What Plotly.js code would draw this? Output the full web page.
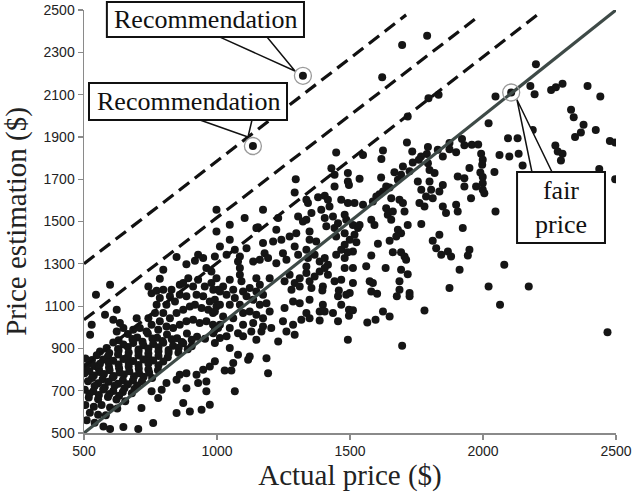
<!DOCTYPE html>
<html>
<head>
<meta charset="utf-8">
<script src="https://cdn.plot.ly/plotly-3.0.1.min.js"></script>
<style>html,body{margin:0;padding:0;background:#fff;}#chart{width:633px;height:501px;}</style>
</head>
<body>
<div id="chart"></div>
<script>
// ---- Scatter data: actual price ($) vs price estimation ($), grouped by area ----
const denseX = [665,700,740,775,812,850,887,925,955, 630,682,720,757,795,830,868,905,
  610,648,685,723,760,798,835,873,905, 585,628,665,705,742,780,818,856,890,
  560,595,630,668,705,742,780,818,855, 548,590,628,665,705,742,780,815,
  505,530,572,610,648,685,723,760,798, 520,560,592,630,668,705,742,780,
  505,540,556,594,632,668,706,742,778, 520,558,596,634,670,707,745,
  502,537,575,612,650,688,724,756, 530,570,608,646,684,718,
  515,553,592,628,665,700, 540,578,615,652,690,
  503,535,572,610,646,680, 520,556,595,632,
  518,553,590,622,655, 505,537,566,598,625, 522,553,582, 510,540];
const denseY = [968,952,970,950,966,948,971,955,946, 938,944,932,947,935,943,930,941,
  928,918,925,915,921,927,912,924,910, 902,897,907,895,899,905,893,903,896,
  885,878,889,881,884,876,887,879,880, 868,862,871,860,866,858,864,858,
  852,845,848,842,850,840,847,843,838, 830,827,834,824,831,822,829,820,
  812,817,803,811,806,814,804,800,797, 793,788,797,786,792,783,785,
  782,772,779,770,777,768,766,760, 760,754,762,750,748,744,
  745,735,742,733,730,724, 722,716,723,712,708,
  705,697,706,698,694,688, 686,680,684,676,
  668,660,670,658,650, 632,624,632,620,616, 596,586,584, 560,548];

const lowX = [754,779,792,810,848,860,885,923,948,973, 992,929,960,960,885,873,898,848,942,973, 760,704,648,598,573,716];
const lowY = [697,665,705,736,752,776,783,776,799,815, 839,736,744,697,712,642,602,594,610,634, 547,519,528,519,531,618];

const midLowX = [986,1011,1036,1079,1098,1129,1167,1148,1230,1261, 1292,992,1048,1079,1123,1117,1061,1029,1054,1186, 1192,1067,1492];
const midLowY = [972,949,957,972,957,980,980,941,933,980, 965,925,902,870,862,846,831,796,796,854, 783,697,941];

const bandX = [742,754,798,829,823,860,873,892,910,929, 954,979,998,1004,785,773,810,842,860,885,
  923,948,973,992,798,767,742,754,785,823, 848,873,898,917,942,967,985,998,710,735,
  779,810,835,860,885,910,935,960,985,1004, 685,610,635,523,623,648,
  598,545,623,848,798,785,885,917,929,948, 960,979,698,579,529,773,1011,1036,1111,1173, 1223,1336];
const bandY = [1193,1161,1177,1177,1146,1201,1209,1232,1193,1225, 1193,1209,1232,1177,1138,1106,1106,1122,1154,1146,
  1154,1146,1122,1130,1067,1067,1043,1012,1028,1043, 1067,1083,1098,1106,1091,1083,1067,1098,996,980,
  988,1004,996,1012,1028,1036,1020,1028,1012,996, 988,1036,1020,964,980,996,
  1201,1154,1083,1332,1272,1229,1298,1314,1343,1327, 1280,1264,1043,1059,1012,1172,1382,1343,1374,1398, 1303,1287];

const centerX = [1048,1148,1223,1211,1242,1273,1298,1348,1348,1373,1442,1448,1480,
  992,1067,1086,1079,1136,1161,1179,1192,1248,1261,1292,1305,1336,1342,1367,1386,1405,1417,1448,1467,1480,
  1086,1086,1092,1048,1023,1148,1161,1198,1254,1273,1292,1311,1336,1348,1367,1386,1405,1417,1442,1280,1311,1355,1398,1467,1480,
  1455,1486,1467,1398,1405,1348,1311,1286,1254,1396,1458,
  986,1011,1036,1061,1067,1098,1123,1148,1173,1186, 1198,1161,1136,1111,1086,1048,1011,992,1023,1061,
  1098,1123,1148,1173,1011,1048,1098,1136,1173,1204, 992,
  1248,1286,1336,1348,1386,1436,1455,1317,1386];
const centerY = [1414,1469,1461,1406,1414,1429,1445,1453,1414,1406,1469,1429,1445,
  1335,1366,1335,1311,1311,1319,1350,1327,1350,1319,1382,1343,1366,1327,1343,1311,1327,1295,1343,1366,1327,
  1280,1248,1217,1225,1193,1232,1201,1232,1217,1248,1209,1232,1256,1217,1240,1264,1280,1248,1217,1177,1193,1185,1193,1225,1280,
  1146,1154,1106,1106,1075,1130,1114,1122,1091,1174,1174,
  1177,1169,1154,1177,1138,1169,1185,1169,1154,1114, 1075,1106,1130,1146,1106,1106,1106,1075,1051,1043,
  1067,1075,1059,1043,1012,996,1012,1020,1004,996, 988,
  1028,1012,1067,1043,1075,1067,1028,1035,1032];

const upperX = [1448,1430,1442,1492,1492,1296,1292,1442,1336,1342, 1380,1405,1417,1423,1467,998,1048,1104,1173,1154,
  1230,1305,1336,1392,1405,1436,1455,1486,1411,998, 1355,1323];
const upperY = [1826,1752,1721,1729,1689,1700,1637,1666,1603,1587, 1615,1622,1603,1571,1603,1555,1485,1516,1555,1473,
  1516,1524,1508,1555,1516,1524,1492,1508,1477,1453, 1540,1500];

const highX = [1536,1617,1667,1699,1680,1692,1496, 1636,1624,1611,1649,1599,1586,1549,1517,1492, 1655,1686,1699,
  1636,1642,1655,1661, 1480,1511,1530,1536, 1580,1592,1705,1717, 1680,1692,1674,1649,1605,
  1517,1524,1499,1480,1511,1492, 1580,1561, 1661,1692,1705, 1634,1692,1717, 1511,
  1511,1574,1586,1686,1686, 1724,1499,
  1755,1768,1799,1805,1786,1811,1836,1849,1761,1780, 1849,1861,1899,1905,1924,1768,1811,1836,1824,1843,
  1868,1880,1943,1949,1912,1874,1724,1799,1818,1905, 1930,1974,1955,1711,1580,1602,1930];
const highY = [1702,1708,1733,1760,1697,1721,1673, 1666,1642,1629,1661,1618,1595,1579,1587,1587, 1610,1603,1587,
  1563,1532,1508,1547, 1532,1484,1469,1484, 1508,1484,1547,1484, 1461,1445,1429,1409,1395,
  1437,1402,1414,1390,1358,1355, 1339,1288, 1355,1355,1335, 1280,1272,1251, 1280,
  1209,1217,1209,1217,1177, 1162,1162,
  1689,1650,1689,1650,1618,1610,1642,1673,1587,1571, 1571,1540,1579,1547,1469,1488,1409,1437,1374,1343,
  1358,1335,1339,1366,1272,1185,1737,1744,1729,1713, 1705,1666,1610,1319,1169,1158,1666];

const topX = [1790,1696,1621,2199,2047,2178,2194,2256,2274,2299, 2393,2441,2331,2341,2378,2368,2346,2424,2477,2497,
  2272,2281,2299,2293,2021,2094,2130,2187,2062,2099, 2134,2149,2043,2437,2497,1993,1999,1997,1990,1999,
  1999,1999,2005,2047,2080,2021,2172,2064,2468,1795, 1833,1717,1921,1714,1624,1618,1549,1734,1793,1789,
  1767,1759,1736,1793,1830,1849,1874,1874,1899,1930, 1958,1982,1949];
const topY = [2378,2335,2182,2244,2091,2141,2102,2122,2135,2151, 2141,2091,2028,1993,1957,1921,1899,1933,1881,1873,
  1859,1831,1820,1788,1965,1894,1894,1933,1815,1807, 1820,1765,1734,1748,1700,1820,1792,1768,1732,1710,
  1681,1650,1634,1547,1295,1193,1193,1106,976,2083, 2099,1996,1890,1873,1836,1795,1815,1831,1852,1819,
  1807,1792,1779,1776,1839,1807,1842,1871,1827,1860, 1863,1864,1753];

const underX = [1696,1780,1724,1676,1496,1496,1511,1565,1596,1624,1649];
const underY = [913,1079,1146,1146,1083,1054,1080,1023,1035,1075,1051];

// circled points: two recommendations and the fair price
const circledX = [1323, 1135, 2106];
const circledY = [2189, 1857, 2110];

// reference lines
const fairLineX = [500, 2500];
const fairLineY = [500, 2500];
const dash1X = [500, 1711], dash1Y = [1300, 2477];
const dash2X = [500, 1974], dash2Y = [1035, 2461];
const dash3X = [500, 2220], dash3Y = [815, 2493];

const xTicks = [500, 1000, 1500, 2000, 2500];
const yTicks = [500, 700, 900, 1100, 1300, 1500, 1700, 1900, 2100, 2300, 2500];

const actualPrice = [].concat(denseX, lowX, midLowX, bandX, centerX, upperX, highX, topX, underX, circledX);
const estimatedPrice = [].concat(denseY, lowY, midLowY, bandY, centerY, upperY, highY, topY, underY, circledY);

const dashStyle = {color: '#111111', width: 3.2, dash: '13px,7px'};
const traces = [
  {x: actualPrice, y: estimatedPrice, type: 'scatter', mode: 'markers',
   marker: {size: 8, color: '#151515'}, hoverinfo: 'x+y'},
  {x: dash1X, y: dash1Y, mode: 'lines', line: dashStyle, hoverinfo: 'skip'},
  {x: dash2X, y: dash2Y, mode: 'lines', line: dashStyle, hoverinfo: 'skip'},
  {x: dash3X, y: dash3Y, mode: 'lines', line: dashStyle, hoverinfo: 'skip'},
  {x: fairLineX, y: fairLineY, mode: 'lines', line: {color: '#3e4a47', width: 3.2}, hoverinfo: 'skip'},
  {x: circledX, y: circledY, mode: 'markers', cliponaxis: false,
   marker: {symbol: 'circle-open', size: 17, color: '#9a9a9a', line: {width: 1.3, color: '#9a9a9a'}}, hoverinfo: 'skip'}
];

const axisCommon = {
  showline: true, linecolor: '#8a8a8a', linewidth: 1.5,
  ticks: 'outside', ticklen: 5, tickcolor: '#8a8a8a', tickwidth: 1.2,
  showgrid: false, zeroline: false,
  tickfont: {family: 'Liberation Sans, Arial, sans-serif', size: 14, color: '#222'}
};
const serif = 'Liberation Serif, Times New Roman, serif';

const shp = (o) => Object.assign({xref: 'paper', yref: 'paper', line: {color: '#111', width: 2}, fillcolor: '#fff', layer: 'above'}, o);
const layout = {
  width: 633, height: 501,
  margin: {l: 84, r: 17, t: 10, b: 68},
  paper_bgcolor: '#fff', plot_bgcolor: '#fff',
  showlegend: false,
  xaxis: Object.assign({}, axisCommon, {range: [500, 2500], tickvals: xTicks,
    title: {text: 'Actual price ($)', font: {family: serif, size: 29, color: '#222'}, standoff: 6}}),
  yaxis: Object.assign({}, axisCommon, {range: [500, 2500], tickvals: yTicks,
    title: {text: 'Price estimation ($)', font: {family: serif, size: 29, color: '#222'}, standoff: 10}}),
  shapes: [
    shp({type: 'path', path: 'M 0.2556,0.936 L 0.344,0.936 L 0.3966,0.8558 Z', line: {color: '#111', width: 1.5}}),
    shp({type: 'rect', x0: 0.043, x1: 0.4135, y0: 0.936, y1: 1.019}),
    shp({type: 'path', path: 'M 0.218,0.740 L 0.3158,0.740 L 0.3083,0.700 Z', line: {color: '#111', width: 1.5}}),
    shp({type: 'rect', x0: 0.0094, x1: 0.3816, y0: 0.740, y1: 0.8274}),
    shp({type: 'path', path: 'M 0.842,0.617 L 0.8797,0.617 L 0.8139,0.7878 Z', line: {color: '#111', width: 1.5}}),
    shp({type: 'rect', x0: 0.814, x1: 0.9793, y0: 0.449, y1: 0.617})
  ],
  annotations: [
    {xref: 'paper', yref: 'paper', x: 0.228, y: 0.978, text: 'Recommendation', showarrow: false,
     xanchor: 'center', yanchor: 'middle', font: {family: serif, size: 26, color: '#111'}},
    {xref: 'paper', yref: 'paper', x: 0.1955, y: 0.784, text: 'Recommendation', showarrow: false,
     xanchor: 'center', yanchor: 'middle', font: {family: serif, size: 26, color: '#111'}},
    {xref: 'paper', yref: 'paper', x: 0.8966, y: 0.532, text: 'fair<br>price', showarrow: false,
     xanchor: 'center', yanchor: 'middle', font: {family: serif, size: 26, color: '#111'}}
  ]
};

Plotly.newPlot('chart', traces, layout, {staticPlot: true, displayModeBar: false});
</script>
</body>
</html>
